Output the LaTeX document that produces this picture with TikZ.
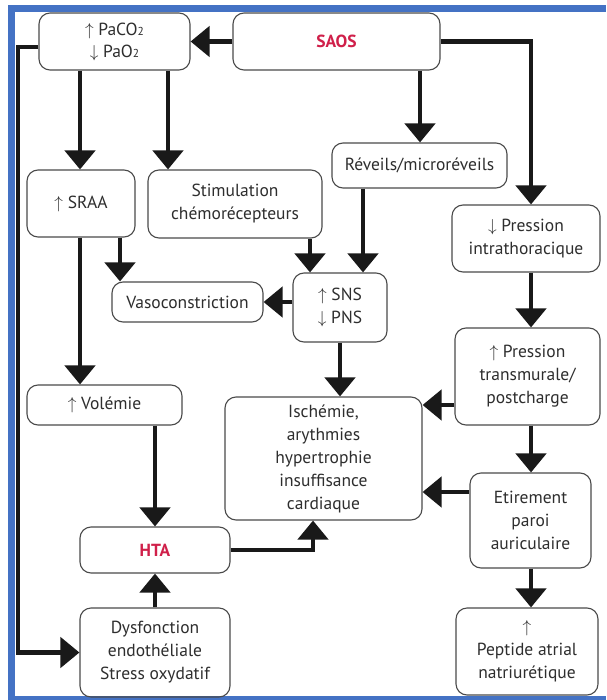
\documentclass[tikz,border=0pt]{standalone}
\usepackage{fontspec}
\setmainfont{PT Sans}
\usetikzlibrary{arrows.meta}
\definecolor{txt}{HTML}{2E2E2E}
\definecolor{boxgray}{HTML}{4A4A4A}
\definecolor{frameblue}{HTML}{4472C4}
\definecolor{redt}{HTML}{D0204A}
\newcommand\sub[1]{{\fontsize{11.5}{11.5}\selectfont #1}}
\begin{document}
\begin{tikzpicture}[x=1pt,y=-1pt,
  box/.style={draw=boxgray, line width=1.1pt, rounded corners=11pt, align=center,
    text=txt, font=\fontsize{17.5}{23}\selectfont, inner sep=0pt},
  redtitle/.style={text=redt, font=\fontsize{17.5}{23}\selectfont\bfseries},
  arr/.style={line width=4.5pt, draw=black!90, line join=miter,
    -{Triangle[width=30pt,length=19pt]}}]
\useasboundingbox (0,0) rectangle (606,700);
\fill[white] (0,0) rectangle (606,700);
% frame
\fill[frameblue] (8,5) rectangle (606,12);
\fill[frameblue] (8,5) rectangle (15,700);
\fill[frameblue] (8,696) rectangle (606,700);
% boxes
\node[box, minimum width=151pt, minimum height=57pt] (paco) at (114.5,41.5)
  {$\uparrow$ PaCO\sub{2}\\[-1pt]$\downarrow$ PaO\sub{2}};
\node[box, redtitle, minimum width=207pt, minimum height=57pt] (saos) at (336.5,41.5) {SAOS};
\node[box, minimum width=108pt, minimum height=67pt] (sraa) at (81,203.5) {$\uparrow$ SRAA};
\node[box, minimum width=174pt, minimum height=68pt] (stim) at (235,204)
  {Stimulation\\chémorécepteurs};
\node[box, minimum width=175pt, minimum height=45pt] (rev) at (419.5,165.5) {Réveils/microréveils};
\node[box, minimum width=148pt, minimum height=67pt] (pint) at (526,238.5)
  {$\downarrow$ Pression\\intrathoracique};
\node[box, minimum width=151pt, minimum height=40pt] (vaso) at (187.5,302) {Vasoconstriction};
\node[box, minimum width=94pt, minimum height=69pt] (sns) at (340,307.5)
  {$\uparrow$ SNS\\$\downarrow$ PNS};
\node[box, minimum width=145pt, minimum height=97pt] (trans) at (527.5,376.5)
  {$\uparrow$ Pression\\transmurale/\\postcharge};
\node[box, minimum width=155pt, minimum height=40pt] (vol) at (104.5,405) {$\uparrow$ Volémie};
\node[box, minimum width=197pt, minimum height=123pt] (isch) at (323.5,458.5)
  {Ischémie,\\arythmies\\hypertrophie\\insuffisance\\cardiaque};
\node[box, minimum width=121pt, minimum height=95pt] (etir) at (530.5,520.5)
  {Etirement\\paroi\\auriculaire};
\node[box, redtitle, minimum width=150pt, minimum height=46pt] (hta) at (155,550) {HTA};
\node[box, minimum width=150pt, minimum height=89pt] (dys) at (155,652.5)
  {Dysfonction\\endothéliale\\Stress oxydatif};
\node[box, minimum width=142pt, minimum height=87pt] (pept) at (527,651.5)
  {$\uparrow$\\Peptide atrial\\natriurétique};
% connectors
\draw[arr] (saos.west) -- (paco.east);
\draw[arr] (saos.east) -- (531,41.5) -- (pint.north -| 531,0);
\draw[arr] (saos.south -| 420,0) -- (rev.north -| 420,0);
\draw[arr] (paco.south -| 80,0) -- (sraa.north -| 80,0);
\draw[arr] (paco.south -| 168,0) -- (stim.north -| 168,0);
\draw[arr] (paco.west |- 0,47) -- (18,47) -- (18,652.5) -- (dys.west);
\draw[arr] (sraa.south -| 80,0) -- (vol.north -| 80,0);
\draw[arr] (sraa.south -| 120,0) -- (vaso.north -| 120,0);
\draw[arr] (stim.south -| 310,0) -- (sns.north -| 310,0);
\draw[arr] (rev.south -| 363,0) -- (sns.north -| 363,0);
\draw[arr] (sns.west |- 0,302) -- (vaso.east);
\draw[arr] (sns.south) -- (isch.north -| sns.south);
\draw[arr] (pint.south -| 531,0) -- (trans.north -| 531,0);
\draw[arr] (trans.west |- 0,405) -- (isch.east |- 0,405);
\draw[arr] (trans.south -| 531,0) -- (etir.north -| 531,0);
\draw[arr] (etir.west |- 0,492) -- (isch.east |- 0,492);
\draw[arr] (etir.south -| 531,0) -- (pept.north -| 531,0);
\draw[arr] (vol.south -| 155,0) -- (hta.north);
\draw[arr] (dys.north) -- (hta.south);
\draw[arr] (hta.east) -- (313,550) -- (isch.south -| 313,0);
\end{tikzpicture}
\end{document}
